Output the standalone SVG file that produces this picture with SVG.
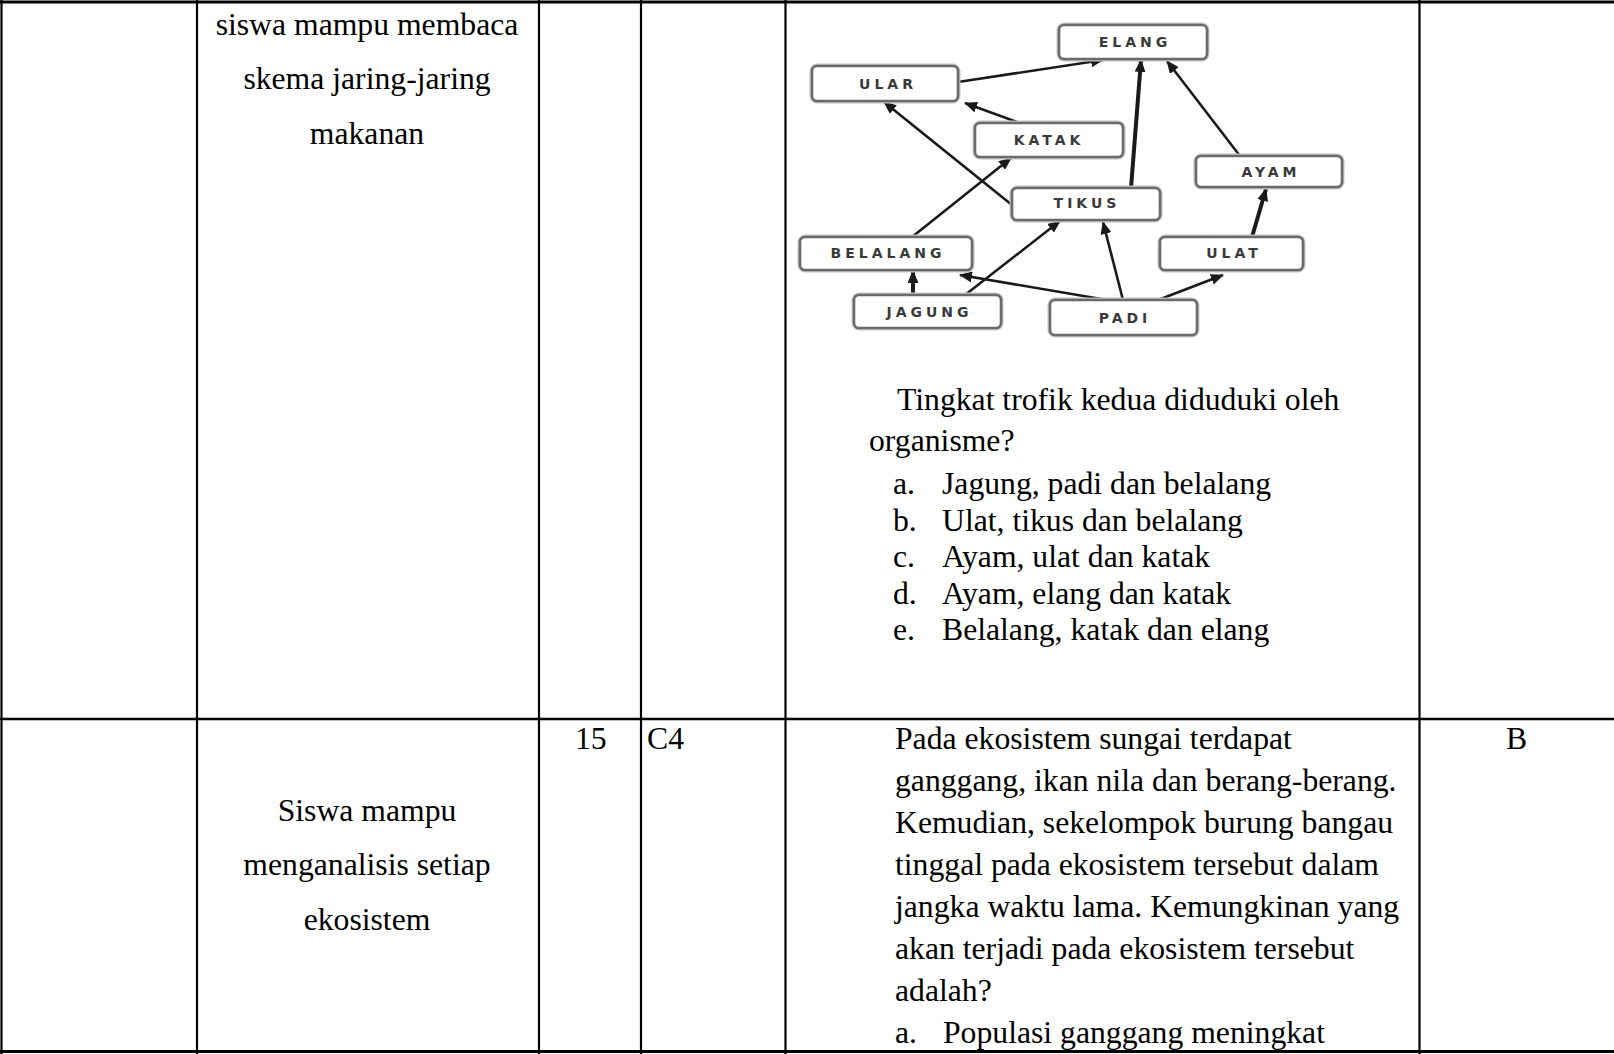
<svg xmlns="http://www.w3.org/2000/svg" width="1614" height="1054" viewBox="0 0 1614 1054">
<style>
.grid{stroke:#000;stroke-width:2.2;fill:none}
.t{font-family:"Liberation Serif","Times New Roman",serif;font-size:31.7px;fill:#000}
.c{text-anchor:middle}
.box{fill:#fff;stroke:#6a6a6a;stroke-width:2.6}
.halo{fill:none;stroke:#c4c4c4;stroke-width:5}
.lbl{font-family:"DejaVu Sans",Verdana,sans-serif;font-weight:bold;font-size:14px;letter-spacing:4px;fill:#3a3a3a;text-anchor:middle}
.arr{stroke:#1a1a1a;stroke-width:2.6;fill:none;marker-end:url(#ah)}
.thick{stroke-width:4}
</style>
<defs>
<marker id="ah" markerUnits="userSpaceOnUse" markerWidth="13" markerHeight="11" refX="12" refY="5.5" orient="auto">
<path d="M0,0 L13,5.5 L0,11 z" fill="#1a1a1a"/>
</marker>
</defs>
<rect x="0" y="0" width="1614" height="1054" fill="#fff"/>
<g id="table">
<line class="grid" x1="0" y1="2" x2="1614" y2="2" style="stroke-width:3"/>
<line class="grid" x1="0" y1="719" x2="1614" y2="719" style="stroke-width:2.6"/>
<line class="grid" x1="0" y1="1051.5" x2="1614" y2="1051.5" style="stroke-width:3"/>
<line class="grid" x1="1.5" y1="0" x2="1.5" y2="1054"/>
<line class="grid" x1="197" y1="0" x2="197" y2="1054"/>
<line class="grid" x1="539" y1="0" x2="539" y2="1054"/>
<line class="grid" x1="641" y1="0" x2="641" y2="1054"/>
<line class="grid" x1="785.5" y1="0" x2="785.5" y2="1054"/>
<line class="grid" x1="1419.5" y1="0" x2="1419.5" y2="1054"/>
</g>
<g id="cell-texts">
<text class="t c" x="367" y="35">siswa mampu membaca</text>
<text class="t c" x="367" y="89">skema jaring-jaring</text>
<text class="t c" x="367" y="143.5">makanan</text>
<text class="t" x="897" y="410">Tingkat trofik kedua diduduki oleh</text>
<text class="t" x="869" y="451">organisme?</text>
<text class="t" x="893" y="494">a.</text><text class="t" x="942" y="494">Jagung, padi dan belalang</text>
<text class="t" x="893" y="530.5">b.</text><text class="t" x="942" y="530.5">Ulat, tikus dan belalang</text>
<text class="t" x="893" y="567">c.</text><text class="t" x="942" y="567">Ayam, ulat dan katak</text>
<text class="t" x="893" y="603.5">d.</text><text class="t" x="942" y="603.5">Ayam, elang dan katak</text>
<text class="t" x="893" y="640">e.</text><text class="t" x="942" y="640">Belalang, katak dan elang</text>
<text class="t" x="575" y="749">15</text>
<text class="t" x="647" y="749">C4</text>
<text class="t c" x="1516.5" y="749">B</text>
<text class="t c" x="367" y="821">Siswa mampu</text>
<text class="t c" x="367" y="875">menganalisis setiap</text>
<text class="t c" x="367" y="929.5">ekosistem</text>
<text class="t" x="895" y="749">Pada ekosistem sungai terdapat</text>
<text class="t" x="895" y="791">ganggang, ikan nila dan berang-berang.</text>
<text class="t" x="895" y="833">Kemudian, sekelompok burung bangau</text>
<text class="t" x="895" y="875">tinggal pada ekosistem tersebut dalam</text>
<text class="t" x="895" y="917">jangka waktu lama. Kemungkinan yang</text>
<text class="t" x="895" y="959">akan terjadi pada ekosistem tersebut</text>
<text class="t" x="895" y="1001">adalah?</text>
<text class="t" x="895" y="1043">a.</text><text class="t" x="943" y="1043">Populasi ganggang meningkat</text>
</g>
<g id="connectors">
<line class="arr" x1="958" y1="82" x2="1103" y2="60"/>
<line class="arr" x1="1020" y1="123" x2="965" y2="103"/>
<line class="arr" x1="1012" y1="205" x2="884" y2="102"/>
<line class="arr" x1="912" y1="237" x2="1011" y2="158"/>
<line class="arr thick" x1="1131" y1="188" x2="1141" y2="60"/>
<line class="arr" x1="1240" y1="156" x2="1167" y2="61"/>
<line class="arr thick" x1="913" y1="295" x2="913" y2="271"/>
<line class="arr" x1="965" y1="295" x2="1060" y2="221"/>
<line class="arr" x1="1107" y1="300" x2="960" y2="275"/>
<line class="arr" x1="1123" y1="300" x2="1103" y2="222"/>
<line class="arr" x1="1158" y1="300" x2="1223" y2="275"/>
<line class="arr thick" x1="1252" y1="237" x2="1266" y2="189"/>
</g>
<g id="elang"><rect class="halo" x="1059" y="25" width="148" height="34" rx="5"/><rect class="box" x="1059" y="25" width="148" height="34" rx="5"/><text class="lbl" x="1135" y="47">ELANG</text></g>
<g id="ular"><rect class="halo" x="812" y="66" width="146" height="35" rx="5"/><rect class="box" x="812" y="66" width="146" height="35" rx="5"/><text class="lbl" x="888" y="88.5">ULAR</text></g>
<g id="katak"><rect class="halo" x="975" y="123" width="148" height="34" rx="5"/><rect class="box" x="975" y="123" width="148" height="34" rx="5"/><text class="lbl" x="1049" y="145">KATAK</text></g>
<g id="ayam"><rect class="halo" x="1196" y="156" width="146" height="31" rx="5"/><rect class="box" x="1196" y="156" width="146" height="31" rx="5"/><text class="lbl" x="1271" y="176.5">AYAM</text></g>
<g id="tikus"><rect class="halo" x="1012" y="188" width="148" height="32" rx="5"/><rect class="box" x="1012" y="188" width="148" height="32" rx="5"/><text class="lbl" x="1087" y="208">TIKUS</text></g>
<g id="belalang"><rect class="halo" x="800" y="237" width="172" height="33" rx="5"/><rect class="box" x="800" y="237" width="172" height="33" rx="5"/><text class="lbl" x="888" y="258">BELALANG</text></g>
<g id="ulat"><rect class="halo" x="1160" y="237" width="143" height="33" rx="5"/><rect class="box" x="1160" y="237" width="143" height="33" rx="5"/><text class="lbl" x="1234" y="258">ULAT</text></g>
<g id="jagung"><rect class="halo" x="854" y="295" width="147" height="33" rx="5"/><rect class="box" x="854" y="295" width="147" height="33" rx="5"/><text class="lbl" x="929.5" y="316.5">JAGUNG</text></g>
<g id="padi"><rect class="halo" x="1050" y="300" width="147" height="35" rx="5"/><rect class="box" x="1050" y="300" width="147" height="35" rx="5"/><text class="lbl" x="1125" y="322.5">PADI</text></g>
</svg>
